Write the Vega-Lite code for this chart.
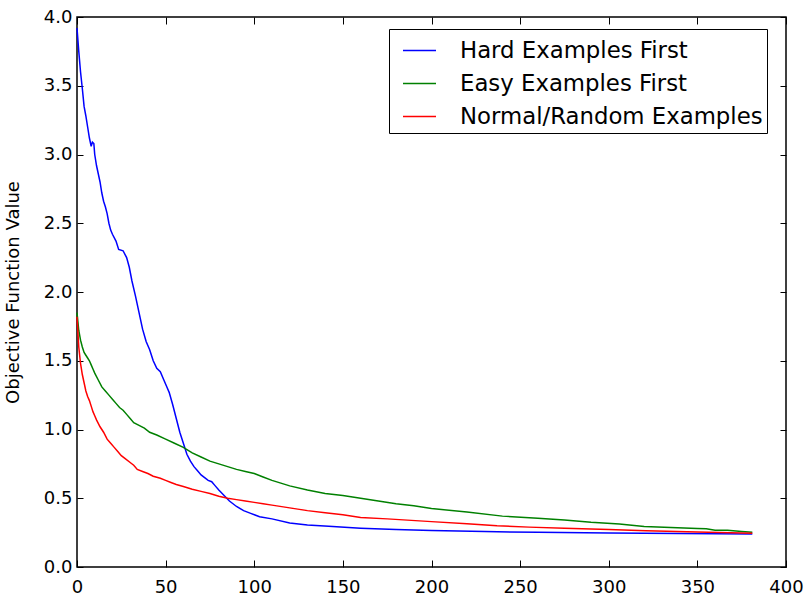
{
  "$schema": "https://vega.github.io/schema/vega-lite/v6.json",
  "width": 709,
  "height": 550,
  "autosize": "none",
  "padding": {"left": 77, "top": 17, "right": 20, "bottom": 29},
  "background": "white",
  "config": {
    "font": "DejaVu Sans",
    "view": {"stroke": "black", "strokeWidth": 1.5},
    "axis": {"grid": false, "domain": false, "tickColor": "black", "tickWidth": 1, "labelColor": "black", "labelFont": "DejaVu Sans", "titleFont": "DejaVu Sans", "titleColor": "black", "titleFontWeight": "normal"}
  },
  "datasets": {
    "d": [
      {"s":"Hard Examples First","x":0,"y":3.92},{"s":"Hard Examples First","x":1,"y":3.75},{"s":"Hard Examples First","x":2,"y":3.6},{"s":"Hard Examples First","x":3,"y":3.48},{"s":"Hard Examples First","x":4,"y":3.35},{"s":"Hard Examples First","x":5,"y":3.28},{"s":"Hard Examples First","x":6,"y":3.2},{"s":"Hard Examples First","x":7,"y":3.12},{"s":"Hard Examples First","x":8,"y":3.06},{"s":"Hard Examples First","x":8.7,"y":3.09},{"s":"Hard Examples First","x":9.5,"y":3.08},{"s":"Hard Examples First","x":10,"y":3.0},{"s":"Hard Examples First","x":11,"y":2.92},{"s":"Hard Examples First","x":12,"y":2.86},{"s":"Hard Examples First","x":13,"y":2.8},{"s":"Hard Examples First","x":14,"y":2.72},{"s":"Hard Examples First","x":15,"y":2.66},{"s":"Hard Examples First","x":16,"y":2.62},{"s":"Hard Examples First","x":17,"y":2.57},{"s":"Hard Examples First","x":18,"y":2.5},{"s":"Hard Examples First","x":19,"y":2.45},{"s":"Hard Examples First","x":20,"y":2.42},{"s":"Hard Examples First","x":22,"y":2.37},{"s":"Hard Examples First","x":23.5,"y":2.31},{"s":"Hard Examples First","x":26,"y":2.3},{"s":"Hard Examples First","x":28,"y":2.25},{"s":"Hard Examples First","x":29.5,"y":2.18},{"s":"Hard Examples First","x":31,"y":2.08},{"s":"Hard Examples First","x":33,"y":1.97},{"s":"Hard Examples First","x":35,"y":1.85},{"s":"Hard Examples First","x":37,"y":1.73},{"s":"Hard Examples First","x":39,"y":1.64},{"s":"Hard Examples First","x":41,"y":1.58},{"s":"Hard Examples First","x":43,"y":1.5},{"s":"Hard Examples First","x":45,"y":1.445},{"s":"Hard Examples First","x":47,"y":1.42},{"s":"Hard Examples First","x":49,"y":1.36},{"s":"Hard Examples First","x":51,"y":1.3},{"s":"Hard Examples First","x":52,"y":1.27},{"s":"Hard Examples First","x":54,"y":1.18},{"s":"Hard Examples First","x":56,"y":1.08},{"s":"Hard Examples First","x":58,"y":0.98},{"s":"Hard Examples First","x":60,"y":0.9},{"s":"Hard Examples First","x":62,"y":0.82},{"s":"Hard Examples First","x":64,"y":0.77},{"s":"Hard Examples First","x":66,"y":0.73},{"s":"Hard Examples First","x":68,"y":0.7},{"s":"Hard Examples First","x":70,"y":0.67},{"s":"Hard Examples First","x":72,"y":0.65},{"s":"Hard Examples First","x":74,"y":0.63},{"s":"Hard Examples First","x":76,"y":0.62},{"s":"Hard Examples First","x":78,"y":0.59},{"s":"Hard Examples First","x":80,"y":0.56},{"s":"Hard Examples First","x":83,"y":0.52},{"s":"Hard Examples First","x":86,"y":0.48},{"s":"Hard Examples First","x":90,"y":0.44},{"s":"Hard Examples First","x":94,"y":0.41},{"s":"Hard Examples First","x":98,"y":0.39},{"s":"Hard Examples First","x":103,"y":0.366},{"s":"Hard Examples First","x":110,"y":0.35},{"s":"Hard Examples First","x":120,"y":0.32},{"s":"Hard Examples First","x":130,"y":0.305},{"s":"Hard Examples First","x":142,"y":0.296},{"s":"Hard Examples First","x":160,"y":0.282},{"s":"Hard Examples First","x":180,"y":0.272},{"s":"Hard Examples First","x":200,"y":0.265},{"s":"Hard Examples First","x":230,"y":0.258},{"s":"Hard Examples First","x":260,"y":0.252},{"s":"Hard Examples First","x":300,"y":0.247},{"s":"Hard Examples First","x":340,"y":0.243},{"s":"Hard Examples First","x":381,"y":0.24},

      {"s":"Easy Examples First","x":0,"y":1.85},{"s":"Easy Examples First","x":1,"y":1.72},{"s":"Easy Examples First","x":2,"y":1.65},{"s":"Easy Examples First","x":3,"y":1.6},{"s":"Easy Examples First","x":4,"y":1.56},{"s":"Easy Examples First","x":5,"y":1.54},{"s":"Easy Examples First","x":6,"y":1.52},{"s":"Easy Examples First","x":7,"y":1.5},{"s":"Easy Examples First","x":8,"y":1.47},{"s":"Easy Examples First","x":9,"y":1.44},{"s":"Easy Examples First","x":10,"y":1.41},{"s":"Easy Examples First","x":12,"y":1.36},{"s":"Easy Examples First","x":14,"y":1.31},{"s":"Easy Examples First","x":16,"y":1.28},{"s":"Easy Examples First","x":18,"y":1.25},{"s":"Easy Examples First","x":20,"y":1.22},{"s":"Easy Examples First","x":22,"y":1.19},{"s":"Easy Examples First","x":24,"y":1.16},{"s":"Easy Examples First","x":26,"y":1.14},{"s":"Easy Examples First","x":28,"y":1.11},{"s":"Easy Examples First","x":30,"y":1.08},{"s":"Easy Examples First","x":32,"y":1.05},{"s":"Easy Examples First","x":35,"y":1.03},{"s":"Easy Examples First","x":38,"y":1.01},{"s":"Easy Examples First","x":41,"y":0.98},{"s":"Easy Examples First","x":45,"y":0.96},{"s":"Easy Examples First","x":50,"y":0.93},{"s":"Easy Examples First","x":55,"y":0.9},{"s":"Easy Examples First","x":60,"y":0.87},{"s":"Easy Examples First","x":65,"y":0.83},{"s":"Easy Examples First","x":70,"y":0.8},{"s":"Easy Examples First","x":75,"y":0.77},{"s":"Easy Examples First","x":80,"y":0.75},{"s":"Easy Examples First","x":85,"y":0.73},{"s":"Easy Examples First","x":90,"y":0.71},{"s":"Easy Examples First","x":95,"y":0.695},{"s":"Easy Examples First","x":100,"y":0.68},{"s":"Easy Examples First","x":105,"y":0.655},{"s":"Easy Examples First","x":110,"y":0.63},{"s":"Easy Examples First","x":115,"y":0.61},{"s":"Easy Examples First","x":120,"y":0.59},{"s":"Easy Examples First","x":130,"y":0.56},{"s":"Easy Examples First","x":140,"y":0.535},{"s":"Easy Examples First","x":150,"y":0.52},{"s":"Easy Examples First","x":160,"y":0.5},{"s":"Easy Examples First","x":170,"y":0.48},{"s":"Easy Examples First","x":180,"y":0.46},{"s":"Easy Examples First","x":190,"y":0.445},{"s":"Easy Examples First","x":200,"y":0.425},{"s":"Easy Examples First","x":220,"y":0.4},{"s":"Easy Examples First","x":240,"y":0.37},{"s":"Easy Examples First","x":260,"y":0.355},{"s":"Easy Examples First","x":275,"y":0.342},{"s":"Easy Examples First","x":290,"y":0.325},{"s":"Easy Examples First","x":306,"y":0.313},{"s":"Easy Examples First","x":320,"y":0.295},{"s":"Easy Examples First","x":335,"y":0.288},{"s":"Easy Examples First","x":350,"y":0.28},{"s":"Easy Examples First","x":355,"y":0.278},{"s":"Easy Examples First","x":360,"y":0.267},{"s":"Easy Examples First","x":367,"y":0.267},{"s":"Easy Examples First","x":375,"y":0.258},{"s":"Easy Examples First","x":381,"y":0.252},

      {"s":"Normal/Random Examples","x":0,"y":1.82},{"s":"Normal/Random Examples","x":1,"y":1.6},{"s":"Normal/Random Examples","x":2,"y":1.48},{"s":"Normal/Random Examples","x":3,"y":1.4},{"s":"Normal/Random Examples","x":4,"y":1.34},{"s":"Normal/Random Examples","x":5,"y":1.28},{"s":"Normal/Random Examples","x":6,"y":1.24},{"s":"Normal/Random Examples","x":7,"y":1.21},{"s":"Normal/Random Examples","x":8,"y":1.17},{"s":"Normal/Random Examples","x":9,"y":1.13},{"s":"Normal/Random Examples","x":10,"y":1.1},{"s":"Normal/Random Examples","x":11,"y":1.07},{"s":"Normal/Random Examples","x":13,"y":1.02},{"s":"Normal/Random Examples","x":15,"y":0.98},{"s":"Normal/Random Examples","x":17,"y":0.93},{"s":"Normal/Random Examples","x":19,"y":0.9},{"s":"Normal/Random Examples","x":21,"y":0.87},{"s":"Normal/Random Examples","x":23,"y":0.84},{"s":"Normal/Random Examples","x":25,"y":0.81},{"s":"Normal/Random Examples","x":27,"y":0.79},{"s":"Normal/Random Examples","x":30,"y":0.76},{"s":"Normal/Random Examples","x":32,"y":0.74},{"s":"Normal/Random Examples","x":34,"y":0.71},{"s":"Normal/Random Examples","x":37,"y":0.695},{"s":"Normal/Random Examples","x":40,"y":0.68},{"s":"Normal/Random Examples","x":43,"y":0.66},{"s":"Normal/Random Examples","x":47,"y":0.645},{"s":"Normal/Random Examples","x":50,"y":0.63},{"s":"Normal/Random Examples","x":53,"y":0.615},{"s":"Normal/Random Examples","x":56,"y":0.6},{"s":"Normal/Random Examples","x":60,"y":0.585},{"s":"Normal/Random Examples","x":65,"y":0.565},{"s":"Normal/Random Examples","x":70,"y":0.55},{"s":"Normal/Random Examples","x":75,"y":0.535},{"s":"Normal/Random Examples","x":80,"y":0.515},{"s":"Normal/Random Examples","x":85,"y":0.5},{"s":"Normal/Random Examples","x":90,"y":0.49},{"s":"Normal/Random Examples","x":95,"y":0.48},{"s":"Normal/Random Examples","x":100,"y":0.47},{"s":"Normal/Random Examples","x":105,"y":0.46},{"s":"Normal/Random Examples","x":110,"y":0.45},{"s":"Normal/Random Examples","x":120,"y":0.43},{"s":"Normal/Random Examples","x":130,"y":0.41},{"s":"Normal/Random Examples","x":140,"y":0.395},{"s":"Normal/Random Examples","x":150,"y":0.38},{"s":"Normal/Random Examples","x":160,"y":0.36},{"s":"Normal/Random Examples","x":175,"y":0.35},{"s":"Normal/Random Examples","x":200,"y":0.33},{"s":"Normal/Random Examples","x":220,"y":0.315},{"s":"Normal/Random Examples","x":237,"y":0.3},{"s":"Normal/Random Examples","x":255,"y":0.29},{"s":"Normal/Random Examples","x":275,"y":0.281},{"s":"Normal/Random Examples","x":300,"y":0.272},{"s":"Normal/Random Examples","x":321,"y":0.264},{"s":"Normal/Random Examples","x":350,"y":0.255},{"s":"Normal/Random Examples","x":381,"y":0.245}
    ]
  },
  "data": {"name": "d"},
  "layer": [
    {
      "mark": {"type": "line", "strokeWidth": 1.5},
      "encoding": {
        "x": {"field": "x", "type": "quantitative", "scale": {"domain": [0, 400], "nice": false, "zero": false},
              "axis": {"values": [0,50,100,150,200,250,300,350,400], "tickSize": -7, "labelFontSize": 18, "labelPadding": 18, "title": null, "labelFlush": false, "labelOverlap": false}},
        "y": {"field": "y", "type": "quantitative", "scale": {"domain": [0, 4], "nice": false},
              "axis": {"values": [0,0.5,1,1.5,2,2.5,3,3.5,4], "format": ".1f", "tickSize": -6, "labelFontSize": 18, "labelPadding": 11, "title": "Objective Function Value", "titleFontSize": 18, "titlePadding": 21, "labelFlush": false, "labelOverlap": false}},
        "color": {"field": "s", "type": "nominal",
                  "scale": {"domain": ["Hard Examples First", "Easy Examples First", "Normal/Random Examples"], "range": ["#0000ff", "#008000", "#ff0000"]},
                  "legend": {"title": null, "orient": "none", "legendX": 312, "legendY": 12, "fillColor": "white", "strokeColor": "black", "padding": 4, "cornerRadius": 0,
                             "symbolType": "stroke", "symbolSize": 1089, "symbolOffset": 9, "symbolStrokeWidth": 1.5, "labelFontSize": 22.8, "labelLimit": 500, "labelOffset": 23, "rowPadding": 3, "labelColor": "black", "labelFont": "DejaVu Sans"}},
        "order": {"field": "x", "type": "quantitative"}
      }
    },
    {
      "mark": {"type": "line", "opacity": 0},
      "encoding": {
        "x": {"field": "x", "type": "quantitative", "axis": {"orient": "top", "values": [0,50,100,150,200,250,300,350,400], "tickSize": -7, "labels": false, "title": null}},
        "y": {"field": "y", "type": "quantitative", "axis": {"orient": "right", "values": [0,0.5,1,1.5,2,2.5,3,3.5,4], "tickSize": -6, "labels": false, "title": null}}
      }
    }
  ],
  "resolve": {"axis": {"x": "independent", "y": "independent"}}
}
